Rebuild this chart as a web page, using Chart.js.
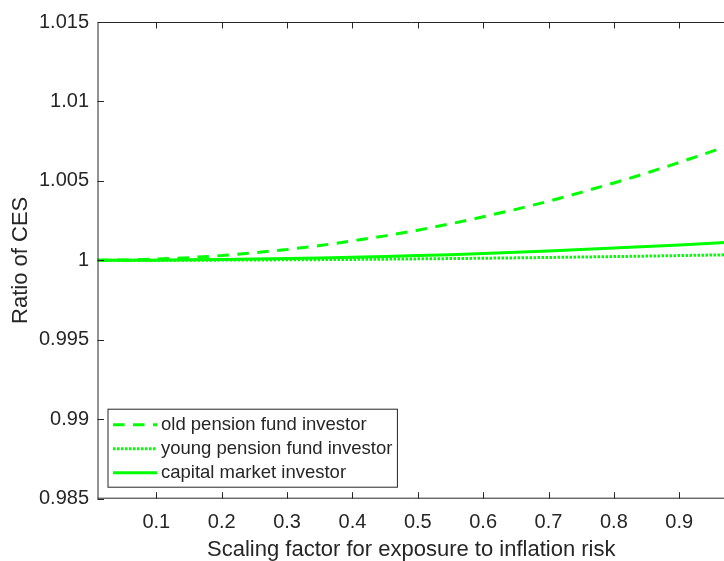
<!DOCTYPE html>
<html>
<head>
<meta charset="utf-8">
<script src="https://cdn.jsdelivr.net/npm/chart.js@4.4.0/dist/chart.umd.min.js"></script>
<style>
  html, body { margin: 0; padding: 0; background: #fff; overflow: hidden; }
  #wrap { width: 730px; height: 561px; }
</style>
</head>
<body>
<div id="wrap"><canvas id="cesChart" width="730" height="561"></canvas></div>
<script>
// values
const xValues = [0.01, 0.05, 0.1, 0.15, 0.2, 0.25, 0.3, 0.35, 0.4, 0.45, 0.5,
                 0.55, 0.6, 0.65, 0.7, 0.75, 0.8, 0.85, 0.9, 0.95, 0.97];
const oldPension = [1.0, 1.00002, 1.00008, 1.00017, 1.0003, 1.00048, 1.00068, 1.00093, 1.00122, 1.00154, 1.0019,
                    1.0023, 1.00274, 1.00321, 1.00372, 1.00428, 1.00487, 1.00549, 1.00616, 1.00686, 1.00715];
const youngPension = [1.0, 1.000001, 1.000004, 1.000008, 1.000015, 1.000023, 1.000033, 1.000045, 1.000059, 1.000075, 1.000093,
                      1.000112, 1.000133, 1.000156, 1.000181, 1.000208, 1.000237, 1.000267, 1.0003, 1.000334, 1.000348];
const capitalMarket = [1.0, 1.000003, 1.00001, 1.00003, 1.00005, 1.00008, 1.00011, 1.00015, 1.00019, 1.00024, 1.0003,
                       1.00036, 1.00043, 1.00051, 1.00059, 1.00068, 1.00077, 1.00087, 1.00097, 1.00108, 1.00113];
const seriesNames = ['old pension fund investor', 'young pension fund investor', 'capital market investor'];

const xTicks = [0.1, 0.2, 0.3, 0.4, 0.5, 0.6, 0.7, 0.8, 0.9];
const xTickLabels = ['0.1', '0.2', '0.3', '0.4', '0.5', '0.6', '0.7', '0.8', '0.9'];
const yTicks = [0.985, 0.99, 0.995, 1, 1.005, 1.01, 1.015];
const yTickLabels = ['0.985', '0.99', '0.995', '1', '1.005', '1.01', '1.015'];

const FONT = '"Liberation Sans", Arial, Helvetica, sans-serif';
const AXIS = '#262626';
const GREEN = '#00ff00';

function toPoints(ys) {
    return xValues.map((x, i) => ({ x: x, y: ys[i] }));
}

// box, inward ticks
const framePlugin = {
    id: 'frame',
    afterDraw: function(chart) {
        const ctx = chart.ctx;
        const a = chart.chartArea;
        const xs = chart.scales.x, ys = chart.scales.y;
        const tl = 6.5;
        ctx.save();
        ctx.strokeStyle = AXIS;
        ctx.lineWidth = 1;
        ctx.beginPath();
        ctx.moveTo(a.left + 0.5, a.bottom);
        ctx.lineTo(a.left + 0.5, a.top + 0.5);
        ctx.lineTo(a.right, a.top + 0.5);
        ctx.moveTo(a.left, a.bottom - 0.5);
        ctx.lineTo(a.right, a.bottom - 0.5);
        xTicks.forEach(v => {
            const px = Math.round(xs.getPixelForValue(v)) + 0.5;
            ctx.moveTo(px, a.bottom);
            ctx.lineTo(px, a.bottom - tl);
            ctx.moveTo(px, a.top);
            ctx.lineTo(px, a.top + tl);
        });
        yTicks.forEach(v => {
            const py = Math.round(ys.getPixelForValue(v)) + 0.5;
            ctx.moveTo(a.left, py);
            ctx.lineTo(a.left + tl, py);
        });
        ctx.stroke();
        ctx.restore();
    }
};

// MATLAB-like legend box in the lower left corner
const legendPlugin = {
    id: 'boxLegend',
    afterDraw: function(chart) {
        const ctx = chart.ctx;
        const a = chart.chartArea;
        const rowH = 24;
        const sampleW = 44;
        ctx.save();
        ctx.font = '18.5px ' + FONT;
        let maxW = 0;
        chart.data.datasets.forEach(ds => { maxW = Math.max(maxW, ctx.measureText(ds.label).width); });
        const left = a.left + 10.5;
        const bottom = a.bottom - 11.5;
        const h = rowH * chart.data.datasets.length + 6;
        const top = bottom - h;
        const w = 5 + sampleW + 4 + maxW + 5;
        ctx.fillStyle = '#fff';
        ctx.fillRect(left, top, w, h);
        ctx.strokeStyle = AXIS;
        ctx.lineWidth = 1;
        ctx.strokeRect(left, top, w, h);
        chart.data.datasets.forEach((ds, i) => {
            const cy = top + 15.5 + i * rowH;
            ctx.strokeStyle = ds.borderColor;
            ctx.lineWidth = ds.borderWidth;
            ctx.setLineDash(ds.borderDash || []);
            ctx.beginPath();
            ctx.moveTo(left + 5, cy);
            ctx.lineTo(left + 5 + sampleW, cy);
            ctx.stroke();
            ctx.setLineDash([]);
            ctx.fillStyle = AXIS;
            ctx.textBaseline = 'middle';
            ctx.textAlign = 'left';
            ctx.fillText(ds.label, left + 5 + sampleW + 4, cy);
        });
        ctx.restore();
    }
};

const ctx = document.getElementById('cesChart').getContext('2d');
const cesChart = new Chart(ctx, {
    type: 'line',
    data: {
        datasets: [{
            label: seriesNames[0],
            data: toPoints(oldPension),
            borderColor: GREEN,
            borderWidth: 3,
            borderDash: [11.5, 8.5],
            pointRadius: 0,
            tension: 0
        }, {
            label: seriesNames[1],
            data: toPoints(youngPension),
            borderColor: GREEN,
            borderWidth: 3,
            borderDash: [2.5, 1.5],
            pointRadius: 0,
            tension: 0
        }, {
            label: seriesNames[2],
            data: toPoints(capitalMarket),
            borderColor: GREEN,
            borderWidth: 3,
            pointRadius: 0,
            tension: 0
        }]
    },
    options: {
        responsive: false,
        animation: false,
        devicePixelRatio: 1,
        layout: { padding: { top: 22, right: 5, left: 0, bottom: 0 } },
        plugins: {
            legend: { display: false },
            tooltip: { enabled: false }
        },
        scales: {
            x: {
                type: 'linear',
                min: 0.01,
                max: 0.97,
                afterFit: function(scale) { scale.height = 62.3; },
                afterBuildTicks: function(scale) { scale.ticks = xTicks.map(v => ({ value: v })); },
                grid: { display: false, drawTicks: false },
                border: { display: false },
                ticks: {
                    color: AXIS,
                    padding: 12,
                    maxRotation: 0,
                    autoSkip: false,
                    font: { family: FONT, size: 20 },
                    callback: function(v, i) { return xTickLabels[i]; }
                },
                title: {
                    display: true,
                    text: 'Scaling factor for exposure to inflation risk',
                    color: AXIS,
                    padding: 0,
                    font: { family: FONT, size: 22, lineHeight: 1.0 }
                }
            },
            y: {
                type: 'linear',
                min: 0.985,
                max: 1.015,
                afterFit: function(scale) { scale.width = 97.5; },
                afterBuildTicks: function(scale) { scale.ticks = yTicks.map(v => ({ value: v })); },
                grid: { display: false, drawTicks: false },
                border: { display: false },
                ticks: {
                    color: AXIS,
                    padding: 8.5,
                    autoSkip: false,
                    font: { family: FONT, size: 20 },
                    callback: function(v, i) { return yTickLabels[i]; }
                },
                title: {
                    display: true,
                    text: 'Ratio of CES',
                    color: AXIS,
                    padding: { top: 8, bottom: 0 },
                    font: { family: FONT, size: 22, lineHeight: 1.2 }
                }
            }
        }
    },
    plugins: [framePlugin, legendPlugin]
});
</script>
</body>
</html>
